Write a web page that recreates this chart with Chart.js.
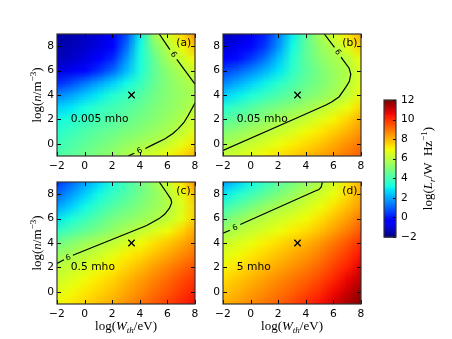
<!DOCTYPE html>
<html>
<head>
<meta charset="utf-8">
<script src="https://cdn.jsdelivr.net/npm/chart.js@4.4.0/dist/chart.umd.min.js"></script>
<style>
  body { margin: 0; background: #fff; }
  #fig { position: relative; width: 452px; height: 339px; overflow: hidden; background: #fff; }
  canvas { position: absolute; }
</style>
</head>
<body>
<div id="fig">
  <canvas id="pa" width="215" height="175" style="left:0;top:0"></canvas>
  <canvas id="pb" width="215" height="175" style="left:166px;top:0"></canvas>
  <canvas id="pc" width="215" height="191" style="left:0;top:148px"></canvas>
  <canvas id="pd" width="215" height="191" style="left:166px;top:148px"></canvas>
  <canvas id="cb" width="112" height="180" style="left:340px;top:80px"></canvas>
</div>
<script>
// axis ticks
const xTicks = [-2, 0, 2, 4, 6, 8];
const yTicks = [0, 2, 4, 6, 8];
const cbTicks = [-2, 0, 2, 4, 6, 8, 10, 12];

// grid nodes the values below were read at (rows go top to bottom)
const gridX = [-2, -1, 0, 1, 2, 3, 4, 5, 6, 7, 8];
const gridY = [9, 8, 7, 6, 5, 4, 3, 2, 1, 0, -1];

// log(L_r)
const lumA = [
  [-1.6, -1.4, -1.2, -0.9, -0.5, 0.8, 3.0, 5.6, 6.5, 7.5, 8.6],
  [-1.5, -1.3, -1.1, -0.8, -0.3, 1.2, 3.2, 5.0, 6.0, 6.9, 7.9],
  [-1.3, -1.1, -0.8, -0.4, 0.3, 1.8, 3.3, 4.6, 5.7, 6.3, 7.1],
  [-0.9, -0.6, -0.2, 0.4, 1.2, 2.3, 3.4, 4.5, 5.3, 5.9, 6.4],
  [0.3, 0.8, 1.4, 2.0, 2.6, 3.2, 3.8, 4.6, 5.2, 5.6, 6.0],
  [1.6, 2.0, 2.5, 3.0, 3.5, 3.9, 4.3, 4.8, 5.2, 5.5, 5.8],
  [2.6, 2.9, 3.3, 3.7, 4.0, 4.3, 4.6, 5.0, 5.3, 5.6, 6.1],
  [3.2, 3.5, 3.8, 4.1, 4.3, 4.6, 4.9, 5.2, 5.5, 5.9, 6.5],
  [3.6, 3.9, 4.2, 4.5, 4.7, 5.0, 5.2, 5.5, 5.8, 6.2, 6.8],
  [3.9, 4.2, 4.5, 4.8, 5.1, 5.4, 5.7, 5.95, 6.3, 6.8, 7.4],
  [4.2, 4.5, 4.8, 5.1, 5.4, 5.9, 6.3, 6.6, 7.0, 7.5, 8.1]
];
const lumB = [
  [-1.3, -1.0, -0.6, 0.2, 1.5, 3.0, 4.5, 5.7, 6.5, 7.3, 8.2],
  [-1.0, -0.6, -0.2, 0.5, 1.8, 3.2, 4.5, 5.4, 6.0, 6.8, 7.7],
  [-0.5, -0.1, 0.5, 1.3, 2.4, 3.5, 4.5, 5.2, 5.7, 6.1, 7.0],
  [0.6, 1.1, 1.6, 2.2, 2.9, 3.7, 4.4, 5.0, 5.5, 5.9, 6.7],
  [1.6, 2.1, 2.6, 3.1, 3.6, 4.1, 4.6, 5.0, 5.5, 6.0, 6.8],
  [2.6, 3.0, 3.4, 3.8, 4.2, 4.6, 5.0, 5.3, 5.7, 6.2, 7.0],
  [3.5, 3.9, 4.3, 4.7, 5.0, 5.3, 5.6, 6.0, 6.4, 6.9, 7.6],
  [4.3, 4.6, 5.0, 5.3, 5.7, 6.0, 6.3, 6.7, 7.1, 7.6, 8.2],
  [5.1, 5.4, 5.7, 6.0, 6.3, 6.6, 7.0, 7.3, 7.7, 8.1, 8.6],
  [5.7, 6.0, 6.3, 6.6, 6.9, 7.2, 7.5, 7.8, 8.2, 8.6, 9.0],
  [6.2, 6.5, 6.8, 7.1, 7.4, 7.7, 8.0, 8.3, 8.6, 9.0, 9.4]
];
const lumC = [
  [0.5, 1.2, 2.0, 2.7, 3.4, 4.0, 4.7, 5.5, 6.3, 7.3, 8.6],
  [1.2, 1.9, 2.6, 3.2, 3.8, 4.3, 4.8, 5.3, 6.0, 6.8, 7.9],
  [2.0, 2.6, 3.2, 3.8, 4.3, 4.7, 5.1, 5.5, 5.9, 6.6, 7.6],
  [2.9, 3.4, 3.9, 4.4, 4.9, 5.2, 5.5, 5.8, 6.2, 6.8, 7.7],
  [3.8, 4.2, 4.6, 5.0, 5.4, 5.8, 6.2, 6.6, 7.0, 7.6, 8.3],
  [4.8, 5.2, 5.6, 5.9, 6.2, 6.6, 7.0, 7.4, 7.8, 8.2, 8.7],
  [5.5, 5.8, 6.1, 6.4, 6.8, 7.2, 7.5, 7.9, 8.3, 8.7, 9.1],
  [6.1, 6.3, 6.6, 6.9, 7.2, 7.6, 8.0, 8.4, 8.8, 9.2, 9.6],
  [6.4, 6.7, 7.0, 7.3, 7.6, 8.0, 8.4, 8.8, 9.2, 9.6, 10.0],
  [6.7, 7.0, 7.3, 7.6, 7.9, 8.3, 8.7, 9.1, 9.5, 9.9, 10.3],
  [7.0, 7.3, 7.6, 7.9, 8.2, 8.6, 9.0, 9.4, 9.8, 10.2, 10.6]
];
const lumD = [
  [2.0, 2.6, 3.2, 3.8, 4.4, 4.9, 5.4, 5.9, 6.5, 7.3, 8.2],
  [3.0, 3.5, 4.0, 4.5, 5.0, 5.5, 5.95, 6.4, 6.9, 7.5, 8.2],
  [3.9, 4.4, 4.9, 5.4, 5.8, 6.1, 6.5, 6.9, 7.4, 7.9, 8.5],
  [4.8, 5.3, 5.8, 6.1, 6.4, 6.7, 7.0, 7.4, 7.9, 8.4, 9.0],
  [5.6, 6.0, 6.3, 6.6, 6.9, 7.2, 7.5, 7.9, 8.4, 8.9, 9.5],
  [6.3, 6.6, 6.9, 7.2, 7.5, 7.8, 8.1, 8.5, 9.0, 9.5, 10.1],
  [6.7, 7.0, 7.3, 7.6, 7.9, 8.2, 8.5, 8.9, 9.4, 9.9, 10.5],
  [7.1, 7.4, 7.7, 8.0, 8.3, 8.6, 8.9, 9.3, 9.8, 10.3, 10.9],
  [7.5, 7.8, 8.1, 8.4, 8.7, 9.0, 9.3, 9.7, 10.2, 10.7, 11.3],
  [7.8, 8.1, 8.4, 8.7, 9.0, 9.3, 9.7, 10.1, 10.6, 11.1, 11.7],
  [8.1, 8.4, 8.7, 9.0, 9.3, 9.7, 10.1, 10.5, 11.0, 11.5, 12.0]
];

// the log(L_r)=6 contour, split where the inline label sits
const contourA = [
  [[5.41, 9.0], [6.18, 7.72]],
  [[6.68, 6.92], [7.88, 5.07], [8.0, 4.9]],
  [[3.15, -1.0], [3.6, -0.78]],
  [[4.4, -0.38], [5.0, -0.05], [5.83, 0.42], [6.4, 0.85], [6.79, 1.24], [7.2, 1.75], [7.51, 2.33], [8.0, 3.35]]
];
const contourB = [
  [[5.34, 9.0], [5.94, 8.1], [6.08, 7.9]],
  [[6.55, 7.1], [7.14, 6.2], [7.26, 5.7], [7.15, 5.1], [6.9, 4.65], [6.42, 3.86], [5.9, 3.45], [5.46, 3.18], [3.3, 2.1], [-2.0, -0.55]]
];
const contourC = [
  [[5.41, 9.0], [5.9, 8.2], [6.25, 7.6], [6.31, 7.3], [6.15, 6.85], [5.8, 6.35], [5.4, 6.0], [4.5, 5.44], [-0.85, 3.0]],
  [[-1.5, 2.62], [-2.0, 2.33]]
];
const contourD = [
  [[5.2, 9.0], [5.12, 8.6], [4.95, 8.38], [4.6, 8.22], [-0.75, 5.52]],
  [[-1.5, 5.05], [-2.0, 4.8]]
];
// where the "6" labels sit, and the line angle there (deg)
const labelsA = [[6.43, 7.3, 55], [4.0, -0.58, -28]];
const labelsB = [[6.3, 7.5, 57]];
const labelsC = [[-1.18, 2.78, -22]];
const labelsD = [[-1.12, 5.25, -24]];

const marker = [{ x: 3.4, y: 4 }];
const conductance = ["0.005 mho", "0.05 mho", "0.5 mho", "5 mho"];
const panelTags = ["(a)", "(b)", "(c)", "(d)"];
const cMin = -2, cMax = 12;

// matplotlib jet
const jetR = [[0, 0], [0.35, 0], [0.66, 1], [0.89, 1], [1, 0.5]];
const jetG = [[0, 0], [0.125, 0], [0.375, 1], [0.64, 1], [0.91, 0], [1, 0]];
const jetB = [[0, 0.5], [0.11, 1], [0.34, 1], [0.65, 0], [1, 0]];
function segVal(seg, t) {
  for (let i = 1; i < seg.length; i++) {
    if (t <= seg[i][0]) {
      const f = (t - seg[i - 1][0]) / (seg[i][0] - seg[i - 1][0]);
      return seg[i - 1][1] + f * (seg[i][1] - seg[i - 1][1]);
    }
  }
  return seg[seg.length - 1][1];
}
function jet(v) {
  const t = Math.min(1, Math.max(0, (v - cMin) / (cMax - cMin)));
  return [segVal(jetR, t), segVal(jetG, t), segVal(jetB, t)].map((c) => Math.round(c * 255));
}

const tickFont = { family: "DejaVu Sans", size: 10.7 };
const fmt = (v) => String(v).replace("-", "\u2212");

// draws text with italic parts and sub/superscripts, centred on (cx, cy)
function mathText(ctx, parts, cx, cy, rot, size) {
  ctx.save();
  ctx.translate(cx, cy);
  ctx.rotate(rot);
  ctx.fillStyle = "#000";
  ctx.textBaseline = "alphabetic";
  ctx.textAlign = "left";
  const font = (p) => (p.it ? "italic " : "") + (p.sub || p.sup ? size * 0.7 : size) + 'px "Liberation Serif"';
  let total = 0;
  const widths = parts.map((p) => {
    ctx.font = font(p);
    const w = ctx.measureText(p.t).width;
    total += w;
    return w;
  });
  let x = -total / 2;
  parts.forEach((p, i) => {
    ctx.font = font(p);
    const dy = p.sup ? -size * 0.38 : p.sub ? size * 0.22 : 0;
    ctx.fillText(p.t, x, size * 0.3 + dy);
    x += widths[i];
  });
  ctx.restore();
}
const yLabel = [{ t: "log(" }, { t: "n", it: true }, { t: "/m" }, { t: "\u22123", sup: true }, { t: ")" }];
const xLabel = [{ t: "log(" }, { t: "W", it: true }, { t: "th", it: true, sub: true }, { t: "/eV)" }];
const cbLabel = [{ t: "log(" }, { t: "L", it: true }, { t: "r", it: true, sub: true }, { t: "/W\u2002Hz" }, { t: "\u22121", sup: true }, { t: ")" }];

function heatImage(grid) {
  const off = document.createElement("canvas");
  off.width = gridX.length;
  off.height = gridY.length;
  const octx = off.getContext("2d");
  const img = octx.createImageData(off.width, off.height);
  grid.forEach((row, j) => {
    row.forEach((v, i) => {
      const [r, g, b] = jet(v);
      const k = (j * off.width + i) * 4;
      img.data[k] = r; img.data[k + 1] = g; img.data[k + 2] = b; img.data[k + 3] = 255;
    });
  });
  octx.putImageData(img, 0, 0);
  return off;
}

function makePanel(id, grid, contours, labels, idx, opts) {
  const img = heatImage(grid);
  const panelPlugin = {
    id: "panel" + idx,
    beforeDatasetsDraw(chart) {
      const { ctx, chartArea: a, scales: { x, y } } = chart;
      ctx.save();
      ctx.beginPath();
      ctx.rect(a.left, a.top, a.right - a.left, a.bottom - a.top);
      ctx.clip();
      ctx.imageSmoothingEnabled = true;
      const x0 = x.getPixelForValue(gridX[0] - 0.5), x1 = x.getPixelForValue(gridX[gridX.length - 1] + 0.5);
      const y0 = y.getPixelForValue(gridY[0] + 0.5), y1 = y.getPixelForValue(gridY[gridY.length - 1] - 0.5);
      ctx.drawImage(img, x0, y0, x1 - x0, y1 - y0);
      ctx.restore();
    },
    afterDatasetsDraw(chart) {
      const { ctx, chartArea: a, scales: { x, y } } = chart;
      ctx.save();
      // contour labels
      ctx.fillStyle = "#000";
      ctx.font = '8px "DejaVu Sans"';
      ctx.textAlign = "center";
      ctx.textBaseline = "middle";
      labels.forEach(([lx, ly, ang]) => {
        ctx.save();
        ctx.translate(x.getPixelForValue(lx), y.getPixelForValue(ly));
        ctx.rotate((ang * Math.PI) / 180);
        ctx.fillText("6", 0, 0);
        ctx.restore();
      });
      // annotations
      ctx.font = '10.7px "DejaVu Sans"';
      ctx.textAlign = "left";
      ctx.fillText(conductance[idx], x.getPixelForValue(-1), y.getPixelForValue(2));
      ctx.fillText(panelTags[idx], x.getPixelForValue(6.65), y.getPixelForValue(8.25));
      // inward ticks on all sides and frame
      ctx.strokeStyle = "#000";
      ctx.lineWidth = 1;
      ctx.beginPath();
      xTicks.forEach((v) => {
        const px = Math.round(x.getPixelForValue(v)) + 0.5;
        ctx.moveTo(px, a.bottom); ctx.lineTo(px, a.bottom - 4);
        ctx.moveTo(px, a.top); ctx.lineTo(px, a.top + 4);
      });
      yTicks.forEach((v) => {
        const py = Math.round(y.getPixelForValue(v)) + 0.5;
        ctx.moveTo(a.left, py); ctx.lineTo(a.left + 4, py);
        ctx.moveTo(a.right, py); ctx.lineTo(a.right - 4, py);
      });
      ctx.stroke();
      ctx.strokeStyle = "#333";
      ctx.lineWidth = 1.2;
      ctx.strokeRect(a.left, a.top, a.right - a.left, a.bottom - a.top);
      ctx.restore();
      if (opts.yTitle) mathText(ctx, yLabel, 37, (a.top + a.bottom) / 2, -Math.PI / 2, 13);
      if (opts.xTitle) mathText(ctx, xLabel, (a.left + a.right) / 2, a.bottom + 22, 0, 13);
    }
  };

  const datasets = contours.map((seg) => ({
    data: seg.map(([px, py]) => ({ x: px, y: py })),
    showLine: true,
    borderColor: "#000",
    borderWidth: 1.2,
    pointRadius: 0,
    fill: false
  }));
  datasets.push({
    data: marker,
    pointStyle: "crossRot",
    pointRadius: 4.5,
    borderColor: "#000",
    borderWidth: 1.3
  });

  new Chart(document.getElementById(id), {
    type: "scatter",
    data: { datasets },
    options: {
      responsive: false,
      animation: false,
      devicePixelRatio: 1,
      events: [],
      layout: { padding: { left: 0, top: 34, right: 20, bottom: 0 } },
      plugins: { legend: { display: false }, tooltip: { enabled: false } },
      scales: {
        x: {
          type: "linear",
          min: -2,
          max: 8,
          afterBuildTicks: (s) => { s.ticks = xTicks.map((v) => ({ value: v })); },
          afterFit: (s) => { s.height = opts.xh; },
          grid: { display: false, drawTicks: false },
          border: { display: false },
          ticks: { font: tickFont, color: "#000", padding: 4, maxRotation: 0, autoSkip: false, callback: fmt }
        },
        y: {
          type: "linear",
          min: -1,
          max: 9,
          afterBuildTicks: (s) => { s.ticks = yTicks.map((v) => ({ value: v })); },
          afterFit: (s) => { s.width = 57; },
          grid: { display: false, drawTicks: false },
          border: { display: false },
          ticks: { font: tickFont, color: "#000", padding: 3, autoSkip: false, callback: fmt }
        }
      }
    },
    plugins: [panelPlugin]
  });
}

makePanel("pa", lumA, contourA, labelsA, 0, { xh: 19, yTitle: true });
makePanel("pb", lumB, contourB, labelsB, 1, { xh: 19 });
makePanel("pc", lumC, contourC, labelsC, 2, { xh: 35, yTitle: true, xTitle: true });
makePanel("pd", lumD, contourD, labelsD, 3, { xh: 35, xTitle: true });

// colour bar
const cbPlugin = {
  id: "colorbar",
  beforeDatasetsDraw(chart) {
    const { ctx, chartArea: a, scales: { y } } = chart;
    ctx.save();
    for (let v = cMin; v < cMax; v += 0.05) {
      const [r, g, b] = jet(v + 0.025);
      const top = y.getPixelForValue(v + 0.05), bot = y.getPixelForValue(v);
      ctx.fillStyle = `rgb(${r},${g},${b})`;
      ctx.fillRect(a.left, top, a.right - a.left, bot - top + 0.6);
    }
    ctx.strokeStyle = "#000";
    ctx.lineWidth = 1;
    ctx.beginPath();
    cbTicks.forEach((v) => {
      const py = Math.round(y.getPixelForValue(v)) + 0.5;
      ctx.moveTo(a.right, py); ctx.lineTo(a.right - 3, py);
    });
    ctx.stroke();
    ctx.strokeStyle = "#333";
    ctx.lineWidth = 1.2;
    ctx.strokeRect(a.left, a.top, a.right - a.left, a.bottom - a.top);
    ctx.restore();
    mathText(ctx, cbLabel, 88, (a.top + a.bottom) / 2, -Math.PI / 2, 13);
  }
};
new Chart(document.getElementById("cb"), {
  type: "scatter",
  data: { datasets: [] },
  options: {
    responsive: false,
    animation: false,
    devicePixelRatio: 1,
    events: [],
    layout: { padding: { left: 44, top: 20, right: 0, bottom: 23 } },
    plugins: { legend: { display: false }, tooltip: { enabled: false } },
    scales: {
      x: { display: false, min: 0, max: 1 },
      y: {
        position: "right",
        min: cMin,
        max: cMax,
        afterBuildTicks: (s) => { s.ticks = cbTicks.map((v) => ({ value: v })); },
        afterFit: (s) => { s.width = 56; },
        grid: { display: false, drawTicks: false },
        border: { display: false },
        ticks: { font: tickFont, color: "#000", padding: 5, autoSkip: false, callback: fmt }
      }
    }
  },
  plugins: [cbPlugin]
});
</script>
</body>
</html>
